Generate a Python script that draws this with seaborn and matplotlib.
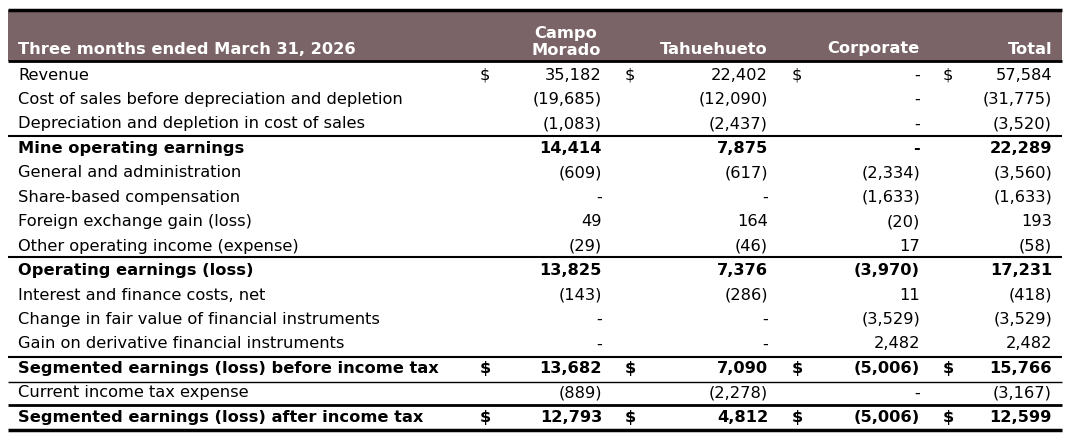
import matplotlib
matplotlib.use("Agg")
import matplotlib.pyplot as plt
import seaborn as sns

# Table content
title = "Three months ended March 31, 2026"
columns = ["Campo\nMorado", "Tahuehueto", "Corporate", "Total"]
labels = [
    "Revenue",
    "Cost of sales before depreciation and depletion",
    "Depreciation and depletion in cost of sales",
    "Mine operating earnings",
    "General and administration",
    "Share-based compensation",
    "Foreign exchange gain (loss)",
    "Other operating income (expense)",
    "Operating earnings (loss)",
    "Interest and finance costs, net",
    "Change in fair value of financial instruments",
    "Gain on derivative financial instruments",
    "Segmented earnings (loss) before income tax",
    "Current income tax expense",
    "Segmented earnings (loss) after income tax",
]
campo = ["35,182", "(19,685)", "(1,083)", "14,414", "(609)", "-", "49", "(29)",
         "13,825", "(143)", "-", "-", "13,682", "(889)", "12,793"]
tahue = ["22,402", "(12,090)", "(2,437)", "7,875", "(617)", "-", "164", "(46)",
         "7,376", "(286)", "-", "-", "7,090", "(2,278)", "4,812"]
corporate = ["-", "-", "-", "-", "(2,334)", "(1,633)", "(20)", "17",
             "(3,970)", "11", "(3,529)", "2,482", "(5,006)", "-", "(5,006)"]
total = ["57,584", "(31,775)", "(3,520)", "22,289", "(3,560)", "(1,633)", "193", "(58)",
         "17,231", "(418)", "(3,529)", "2,482", "15,766", "(3,167)", "12,599"]
bold_rows = [3, 8, 12, 14]
dollar_rows = [0, 12, 14]

sns.set_style("white")
plt.rcParams['font.family'] = ['DejaVu Sans']
plt.rcParams['text.color'] = 'black'

fig = plt.figure(figsize=(10.86, 4.38), dpi=100)
ax = fig.add_axes([0, 0, 1, 1])
ax.set_xlim(0, 1086)
ax.set_ylim(438, 0)
ax.axis("off")

fs = 11.7
x0, x1 = 8, 1062
col_right = [602, 768, 920, 1052]
dollar_x = [480, 625, 792, 943]

# header band
ax.fill_between([x0, x1], 10, 61, color="#7a6467", lw=0)
ax.text(18, 49, title, color="white", fontsize=fs, fontweight="bold", va="center")
for c, xr in zip(columns, col_right):
    if "\n" in c:
        ax.text(xr - 36, 58, c, color="white", fontsize=fs, fontweight="bold",
                va="bottom", ha="center", multialignment="center", linespacing=1.15)
    else:
        ax.text(xr, 49, c, color="white", fontsize=fs, fontweight="bold",
                va="center", ha="right")

row_y = [75 + i * 24.45 for i in range(len(labels))]
for i, lab in enumerate(labels):
    y = row_y[i]
    w = "bold" if i in bold_rows else "normal"
    ax.text(18, y, lab, fontsize=fs, fontweight=w, va="center", color="black")
    for xr, vals in zip(col_right, [campo, tahue, corporate, total]):
        ax.text(xr, y, vals[i], fontsize=fs, fontweight=w, va="center", ha="right",
                color="black")
    if i in dollar_rows:
        for xd in dollar_x:
            ax.text(xd, y, "$", fontsize=fs, fontweight=w, va="center", ha="left",
                    color="black")

# rules
rules = [(10, 2.5), (61, 2.0), (135.5, 1.5), (257, 1.5), (357, 1.5),
         (381.5, 1.0), (405, 2.0), (430, 2.5)]
for y, lw in rules:
    ax.plot([x0, x1], [y, y], color="black", lw=lw, solid_capstyle="butt")

fig.savefig("out.png", dpi=100)
